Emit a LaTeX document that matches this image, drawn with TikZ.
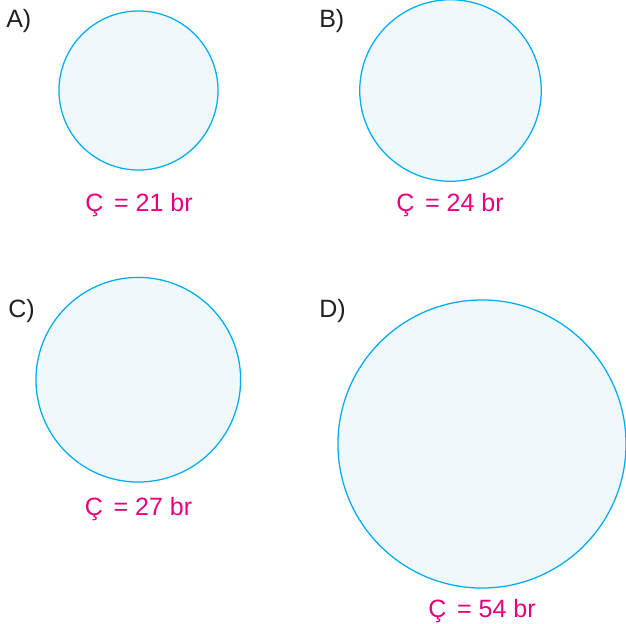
\documentclass[tikz,border=0pt]{standalone}
\usepackage{fontspec}
\setmainfont{Liberation Sans}
\usepackage{xcolor}
\usepackage{tikz}
\definecolor{ringblue}{RGB}{0,174,239}
\definecolor{ringfill}{RGB}{240,248,252}
\definecolor{labelpink}{RGB}{230,0,126}
\definecolor{lettergray}{RGB}{35,31,32}

\begin{document}
\begin{tikzpicture}[
  x=0.025cm,y=-0.025cm,
  disc/.style={circle, draw=ringblue, fill=ringfill, line width=0.9pt, inner sep=0pt},
  letter/.style={anchor=base west, inner sep=0pt, text=lettergray, font=\fontsize{17.8pt}{20pt}\selectfont},
  perim/.style={anchor=base, inner sep=0pt, text=labelpink, font=\fontsize{17.8pt}{20pt}\selectfont}
]
\useasboundingbox (0,0) rectangle (626,624);
\node[disc, minimum size=3.975cm] (discA) at (138.5,90.5) {};
\node[disc, minimum size=4.5375cm] (discB) at (450.5,90.5) {};
\node[disc, minimum size=5.115cm] (discC) at (138.3,379.7) {};
\node[disc, minimum size=7.2cm] (discD) at (482,444) {};
\node[letter] (optA) at (6,28) {A)};
\node[letter] (optB) at (319,28) {B)};
\node[letter] (optC) at (8,317) {C)};
\node[letter] (optD) at (319,317) {D)};
\node[perim] (perA) at (139,211) {Ç\hspace{0.15em} = 21 br};
\node[perim] (perB) at (450,211.5) {Ç\hspace{0.15em} = 24 br};
\node[perim] (perC) at (138.5,515) {Ç\hspace{0.15em} = 27 br};
\node[perim] (perD) at (482,617) {Ç\hspace{0.15em} = 54 br};
\end{tikzpicture}
\end{document}
